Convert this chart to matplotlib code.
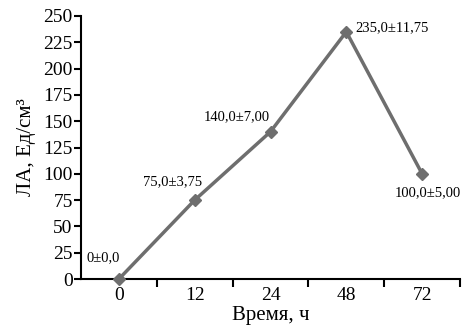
import matplotlib
matplotlib.use("Agg")
import matplotlib.pyplot as plt

categories = ["0", "12", "24", "48", "72"]
values = [0, 75, 140, 235, 100]
labels = ["0±0,0", "75,0±3,75", "140,0±7,00", "235,0±11,75", "100,0±5,00"]

plt.rcParams['font.family'] = ['Liberation Serif', 'DejaVu Serif']

fig = plt.figure(figsize=(4.69, 3.31), dpi=100)
ax = fig.add_axes([81/469, 1-279/331, 379/469, 263/331])

x = list(range(len(categories)))
ax.plot(x, values, color='#6e6e6e', lw=2.5, marker='D', markersize=6.5, clip_on=False, zorder=3)

offsets = [(-11.5, 15, 'center'), (-16, 13, 'center'), (-24, 11, 'center'), (6.5, 3, 'left'), (4.3, -13.7, 'center')]
for xi, v, lab, (dx, dy, ha) in zip(x, values, labels, offsets):
    ax.annotate(lab, (xi, v), xytext=(dx, dy), textcoords='offset points',
                ha=ha, va='center', fontsize=10.5)

ax.set_xlim(-0.5, 4.5)
ax.set_ylim(0, 250)
ax.set_yticks(range(0, 251, 25))
ax.set_xticks(x)
ax.set_xticklabels(categories)
ax.set_xticks([i + 0.5 for i in x], minor=True)
ax.tick_params(axis='x', which='major', length=0, labelsize=14, pad=6)
ax.tick_params(axis='x', which='minor', length=6, width=1.5, direction='out')
ax.tick_params(axis='y', length=5, width=1.5, direction='out', labelsize=14, pad=1)
for s in ['top', 'right']:
    ax.spines[s].set_visible(False)
for s in ['left', 'bottom']:
    ax.spines[s].set_linewidth(1.5)

ax.set_xlabel("Время, ч", fontsize=15, labelpad=1)
ax.set_ylabel("ЛА, Ед/см³", fontsize=15, labelpad=5)

fig.savefig("out.png", dpi=100)
